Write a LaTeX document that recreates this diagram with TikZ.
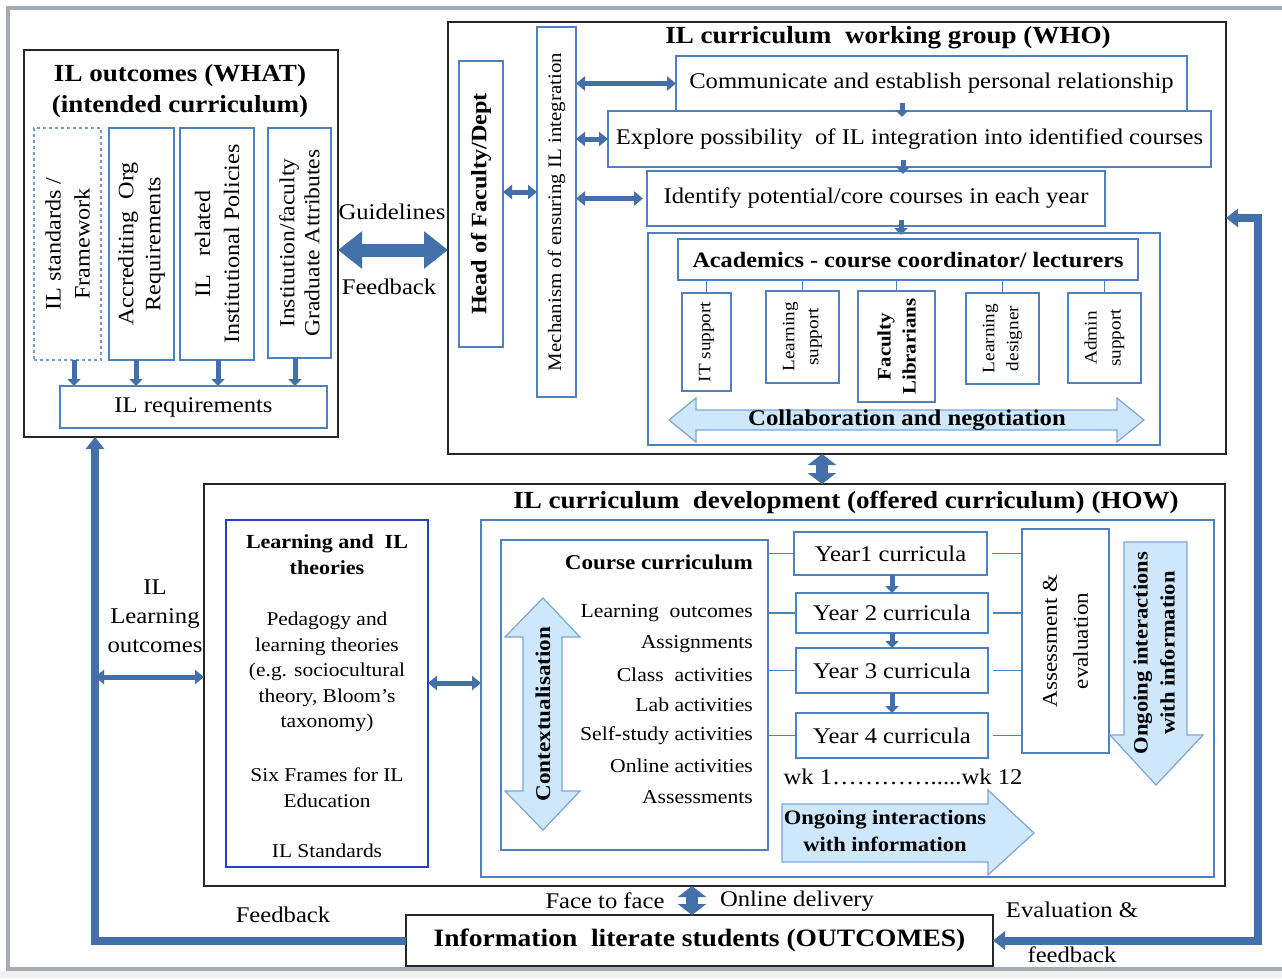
\documentclass[tikz,border=0pt]{standalone}
\usepackage{fontspec}
\setmainfont{Liberation Serif}[FakeStretch=1.1]
\usetikzlibrary{arrows.meta}
\definecolor{mblue}{RGB}{79,129,189}
\definecolor{cblue}{RGB}{68,112,170}
\definecolor{lblue}{RGB}{207,231,250}
\definecolor{lbord}{RGB}{125,165,215}
\definecolor{tblue}{RGB}{35,65,200}
\definecolor{framec}{RGB}{168,172,178}
\newcommand\myfs[2]{\fontsize{#1}{#2}\selectfont}
\tikzset{
  bbox/.style={draw=black!85, line width=1.6pt, inner sep=0pt, outer sep=0pt, anchor=north west},
  ibox/.style={draw=mblue, line width=1.3pt, inner sep=0pt, outer sep=0pt, anchor=north west, font=\myfs{22.4}{27}},
  txt/.style={inner sep=0pt, font=\myfs{22.4}{27}},
  ttl/.style={inner sep=0pt, font=\bfseries\myfs{24.6}{30}},
  conn/.style={draw=cblue, line width=8pt},
  dbl/.style={draw=cblue, line width=5pt, {Triangle[width=14pt,length=9pt]}-{Triangle[width=14pt,length=9pt]}},
  sdown/.style={draw=cblue, line width=5pt, -{Triangle[width=13pt,length=7pt]}},
  blkA/.style={draw=cblue, line width=13pt, {Triangle[width=36pt,length=24pt]}-{Triangle[width=36pt,length=24pt]}},
  blkB/.style={draw=cblue, line width=12pt, {Triangle[width=28pt,length=11pt]}-{Triangle[width=28pt,length=11pt]}},
  lbarr/.style={fill=lblue, draw=lbord, line width=1.2pt},
  thinb/.style={draw=mblue, line width=1.3pt},
  loopend/.tip={Triangle[width=18pt,length=12pt]},
}
\begin{document}
\begin{tikzpicture}[x=1pt,y=-1pt]
\useasboundingbox (0,0) rectangle (1282,978);
\fill[white] (0,0) rectangle (1282,978);
\fill[black!6] (0,971) rectangle (1282,978);
\draw[framec, line width=4pt] (1286,8) -- (8,8) -- (8,969) -- (1286,969);

% ---------------- Box 1: WHAT
\node[bbox, minimum width=314pt, minimum height=387pt] (what) at (24,50) {};
\node[ttl] (whatT1) at (180,76) {IL outcomes (WHAT)};
\node[ttl] (whatT2) at (180,107) {(intended curriculum)};
\node[ibox, dashed, draw=mblue!80, minimum width=67pt, minimum height=232pt] (s1) at (34,128) {};
\node[ibox, minimum width=65pt, minimum height=232pt] (s2) at (109,128) {};
\node[ibox, minimum width=74pt, minimum height=232pt] (s3) at (180,128) {};
\node[ibox, minimum width=63pt, minimum height=230pt] (s4) at (268,128) {};
\node[txt, rotate=90, align=center, font=\myfs{22}{29}] (s1t) at (s1) {IL standards /\\Framework};
\node[txt, rotate=90, align=center, font=\myfs{22}{27}] (s2t) at (s2) {Accrediting\ \ Org\\Requirements};
\node[txt, rotate=90, align=center, font=\myfs{22}{29}] (s3t) at (s3) {IL\ \ \ related\\Institutional Policies};
\node[txt, rotate=90, align=center, font=\myfs{21.5}{25}] (s4t) at (s4) {Institution/faculty\\Graduate Attributes};
\node[ibox, minimum width=267pt, minimum height=42pt] (req) at (60,386) {IL requirements};
\coordinate (a1) at ([xshift=6.5pt]s1.south);
\coordinate (a2) at ([xshift=-5.5pt]s2.south);
\coordinate (a3) at ([xshift=1pt]s3.south);
\coordinate (a4) at ([xshift=-4.5pt]s4.south);
\foreach \a in {a1,a2,a3,a4}{\draw[sdown] (\a) -- (\a |- req.north);}

% ---------------- Box 2: WHO
\node[bbox, minimum width=778pt, minimum height=432pt] (who) at (448,22) {};
\node[ttl] (whoT) at (888,38) {IL curriculum\ \ working group (WHO)};
\node[ibox, minimum width=44pt, minimum height=286pt] (head) at (459,61) {};
\node[txt, rotate=90, font=\bfseries\myfs{22}{26}] (headt) at (head) {Head of Faculty/Dept};
\node[ibox, minimum width=39pt, minimum height=370pt] (mech) at (537,27) {};
\node[txt, rotate=90, font=\myfs{19}{22}] (mecht) at (556.5,212) {Mechanism of ensuring IL integration};
\node[ibox, minimum width=511pt, minimum height=55pt] (comm) at (676,56) {Communicate and establish personal relationship};
\node[ibox, minimum width=603pt, minimum height=56pt] (expl) at (608,111) {Explore possibility\ \ of IL integration into identified courses};
\node[ibox, minimum width=458pt, minimum height=55pt] (iden) at (647,171) {Identify potential/core courses in each year};
\draw[sdown] ([xshift=-29.5pt,yshift=8pt]comm.south) -- ([xshift=-29.5pt,yshift=-6pt]comm.south);
\draw[sdown] ([xshift=-6.5pt,yshift=7pt]expl.south) -- ([xshift=-6.5pt,yshift=-7pt]expl.south);
\draw[sdown] ([xshift=25pt,yshift=6pt]iden.south) -- ([xshift=25pt,yshift=-9pt]iden.south);
\draw[dbl] (head.east |- 0,192) -- (mech.west |- 0,192);
\draw[dbl] (mech.east |- comm.west) -- (comm.west);
\draw[dbl] (mech.east |- expl.west) -- (expl.west);
\draw[dbl] (mech.east |- iden.west) -- ([xshift=-4pt]iden.west);

\node[ibox, minimum width=512pt, minimum height=212pt] (grp) at (648,233) {};
\node[ibox, minimum width=460pt, minimum height=41pt, font=\bfseries\myfs{22}{26}] (acad) at (678,239) {Academics - course coordinator/ lecturers};
\node[ibox, minimum width=49pt, minimum height=98pt] (it) at (682,293) {};
\node[ibox, minimum width=73pt, minimum height=92pt] (ls) at (766,291) {};
\node[ibox, minimum width=77pt, minimum height=111pt] (fl) at (858,291) {};
\node[ibox, minimum width=73pt, minimum height=91pt] (ld) at (966,293) {};
\node[ibox, minimum width=73pt, minimum height=90pt] (as) at (1068,293) {};
\node[txt, rotate=90, font=\myfs{17.5}{22}] (itt) at (it) {IT support};
\node[txt, rotate=90, align=center, font=\myfs{17.5}{24}] (lst) at (ls) {Learning\\support};
\node[txt, rotate=90, align=center, font=\bfseries\myfs{19}{25}] (flt) at (fl) {Faculty\\Librarians};
\node[txt, rotate=90, align=center, font=\myfs{17.5}{24}] (ldt) at (ld) {Learning\\designer};
\node[txt, rotate=90, align=center, font=\myfs{17.5}{24}] (ast) at (as) {Admin\\support};
\foreach \b in {it,ls,fl,ld,as}{\draw[thinb] (acad.south -| \b.north) -- (\b.north);}
\draw[lbarr] (669,420) -- (696,398) -- (696,410) -- (1117,410) -- (1117,398) -- (1144,420)
  -- (1117,442) -- (1117,430) -- (696,430) -- (696,442) -- cycle;
\node[txt, font=\bfseries\myfs{22.5}{26}] (collab) at (907,420) {Collaboration and negotiation};

% ---------------- Guidelines / Feedback
\node[txt] (guid) at (392,212) {Guidelines};
\node[txt] (fb1) at (389,287) {Feedback};
\draw[blkA] (what.east |- 0,250) -- (who.west |- 0,250);

% ---------------- Box 3: HOW
\node[bbox, minimum width=1021pt, minimum height=402pt] (how) at (204,484) {};
\draw[blkB] (who.south -| 822,0) -- (how.north -| 822,0);
\node[ttl] (howT) at (846,502) {IL curriculum\ \ development (offered curriculum) (HOW)};

\node[draw=tblue, line width=1.5pt, inner sep=0pt, outer sep=0pt, anchor=north west, minimum width=202pt, minimum height=347pt] (th) at (226,520) {};
\node[txt, align=center, font=\bfseries\myfs{20}{26}] (tht1) at (327,555) {Learning and\ \ IL\\theories};
\node[txt, align=center, font=\myfs{19.5}{25.5}] (tht2) at (327,672) {Pedagogy and\\learning theories\\(e.g. sociocultural\\theory, Bloom’s\\taxonomy)};
\node[txt, align=center, font=\myfs{19.5}{25.5}] (tht3) at (327,787.5) {Six Frames for IL\\Education};
\node[txt, font=\myfs{19.5}{25.5}] (tht4) at (327,851) {IL Standards};

\node[ibox, minimum width=733pt, minimum height=357pt] (crs) at (481,520) {};
\draw[dbl] (th.east |- 0,683) -- (crs.west |- 0,683);

\node[ibox, minimum width=267pt, minimum height=310pt] (cc) at (501,540) {};
\node[txt, anchor=east, font=\bfseries\myfs{21}{26}] (cct) at (753,562) {Course curriculum};
\foreach \lab [count=\i] in {Learning\ \ outcomes,Assignments,Class\ \ activities,Lab activities,Self-study activities,Online activities,Assessments}{
  \node[txt, anchor=east, font=\myfs{19.7}{24}] (item\i) at (753,{582.5+30.6*\i}) {\lab};
}
\draw[lbarr] (543,598) -- (580,637) -- (562,637) -- (562,791) -- (580,791) -- (543,830)
  -- (505,791) -- (523,791) -- (523,637) -- (505,637) -- cycle;
\node[txt, rotate=90, font=\bfseries\myfs{21}{26}] (ctx) at (543,714) {Contextualisation};

\node[ibox, minimum width=193pt, minimum height=43pt] (y1) at (794,532) {Year1 curricula};
\node[ibox, minimum width=192pt, minimum height=40pt] (y2) at (796,593) {Year 2 curricula};
\node[ibox, minimum width=192pt, minimum height=45pt] (y3) at (796,648) {Year 3 curricula};
\node[ibox, minimum width=192pt, minimum height=45pt] (y4) at (796,713) {Year 4 curricula};
\draw[sdown] (y1.south -| 892,0) -- (y2.north -| 892,0);
\draw[sdown] (y2.south -| 892,0) -- (y3.north -| 892,0);
\draw[sdown] (y3.south -| 892,0) -- (y4.north -| 892,0);
\node[ibox, minimum width=87pt, minimum height=224pt] (ae) at (1022,529) {};
\node[txt, rotate=90, align=center, font=\myfs{21}{31}] (aet) at (ae) {Assessment \&\\evaluation};
\foreach \y in {y1,y2,y3,y4}{
  \draw[thinb] (cc.east |- \y.west) -- (\y.west);
  \draw[thinb] ([xshift=5pt]\y.east) -- (ae.west |- \y.east);
}
\node[txt] (wk) at (903,777) {wk 1………….....wk 12};

\draw[lbarr] (1124,542) -- (1187,542) -- (1187,735) -- (1203,735) -- (1156,785) -- (1110,735) -- (1124,735) -- cycle;
\node[txt, rotate=90, align=center, font=\bfseries\myfs{20.5}{27}] (ong1) at (1154,653) {Ongoing interactions\\with information};
\draw[lbarr] (782,804) -- (988,804) -- (988,790) -- (1034,833) -- (988,875) -- (988,862) -- (782,862) -- cycle;
\node[txt, align=center, font=\bfseries\myfs{20.5}{27}] (ong2) at (885,831) {Ongoing interactions\\with information};

% ---------------- Outcomes
\node[bbox, minimum width=587pt, minimum height=51pt, font=\bfseries\myfs{25}{30}] (stud) at (406,915) {Information\ \ literate students (OUTCOMES)};
\draw[blkB] (how.south -| 692,0) -- (stud.north -| 692,0);
\node[txt] (f2f) at (605,901) {Face to face};
\node[txt] (onl) at (797,901) {Online delivery};
\node[txt] (fb2) at (283,915) {Feedback};
\node[txt] (ev1) at (1072,910) {Evaluation \&};
\node[txt] (ev2) at (1072,955) {feedback};

% left loop
\draw[conn, -loopend] (stud.west) -| (what.south -| 95,0);
\coordinate (loopL) at (95,677);
\node[txt, align=center, font=\myfs{22.5}{29}] (ilo) at (155,616) {IL\\Learning\\outcomes};
\draw[dbl] (loopL) -- (how.west |- loopL);
% right loop
\coordinate (loopR) at (1258,218);
\draw[conn, loopend-loopend] (who.east |- loopR) -- (loopR) |- (stud.east);
\end{tikzpicture}
\end{document}
